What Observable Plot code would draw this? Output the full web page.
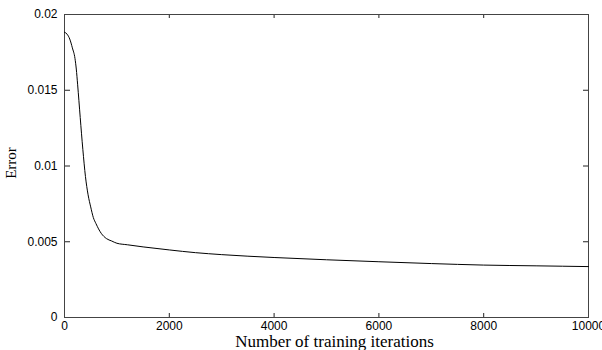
<!DOCTYPE html>
<html>
<head>
<meta charset="utf-8">
<script src="https://cdn.jsdelivr.net/npm/d3@7"></script>
<script src="https://cdn.jsdelivr.net/npm/@observablehq/plot@0.6"></script>
<style>
  html, body { margin: 0; padding: 0; background: #fff; }
  #chart svg { display: block; background: #fff; }
</style>
</head>
<body>
<div id="chart"></div>
<script>
const iterations = [0, 50, 100, 150, 200, 225, 250, 300, 350, 400, 450, 500, 550, 600, 700, 800, 900, 1000, 1200, 1500, 2000, 2500, 3000, 4000, 5000, 6000, 7000, 8000, 9000, 10000];
const errors = [0.01883, 0.0187, 0.01838, 0.0178, 0.0171, 0.0164, 0.0154, 0.0132, 0.0111, 0.0093, 0.0081, 0.0073, 0.0066, 0.0062, 0.00556, 0.00521, 0.00505, 0.00490, 0.00480, 0.00466, 0.00446, 0.00428, 0.00415, 0.00396, 0.00381, 0.00368, 0.00356, 0.00346, 0.00341, 0.00336];
const xTicks = [0, 2000, 4000, 6000, 8000, 10000];
const yTicks = [0, 0.005, 0.01, 0.015, 0.02];
const xTitle = "Number of training iterations";
const yTitle = "Error";

const data = iterations.map((x, i) => ({x, y: errors[i]}));

const W = 602, H = 350;
const mL = 64, mR = 14, mT = 14, mB = 33;
const fw = W - mL - mR, fh = H - mT - mB;
const tickFont = "'Liberation Sans', Arial, Helvetica, sans-serif";
const titleFont = "'Liberation Serif', 'Times New Roman', serif";

const chart = Plot.plot({
  width: W,
  height: H,
  marginLeft: mL,
  marginRight: mR,
  marginTop: mT,
  marginBottom: mB,
  style: {fontFamily: tickFont, fontSize: "12px", color: "#000", background: "#fff", overflow: "visible"},
  x: {domain: [0, 10000]},
  y: {domain: [0, 0.02]},
  marks: [
    // inward ticks on all four sides
    Plot.tickX(xTicks, {x: d => d, insetTop: fh - 4, stroke: "#222"}),
    Plot.tickX(xTicks, {x: d => d, insetBottom: fh - 4, stroke: "#222"}),
    Plot.tickY(yTicks, {y: d => d, insetRight: fw - 6, stroke: "#222"}),
    Plot.tickY(yTicks, {y: d => d, insetLeft: fw - 5, stroke: "#222"}),
    Plot.frame({stroke: "#444", strokeWidth: 1}),
    Plot.line(data, {x: "x", y: "y", curve: "monotone-x", stroke: "#000", strokeWidth: 1}),
    Plot.axisX({ticks: xTicks, tickSize: 0, tickPadding: 4, tickFormat: d => String(d), label: null, fontSize: 12}),
    Plot.axisY({ticks: yTicks, tickSize: 0, tickPadding: 7, tickFormat: d => String(d), label: null, fontSize: 12}),
    Plot.text([xTitle], {frameAnchor: "bottom", dx: 8, dy: 29, lineAnchor: "bottom", fontFamily: titleFont, fontSize: 17, fill: "#000"}),
    Plot.text([yTitle], {frameAnchor: "left", textAnchor: "middle", rotate: -90, dx: -53, dy: -3, fontFamily: titleFont, fontSize: 15, fill: "#000"})
  ]
});

document.getElementById("chart").appendChild(chart);
</script>
</body>
</html>
